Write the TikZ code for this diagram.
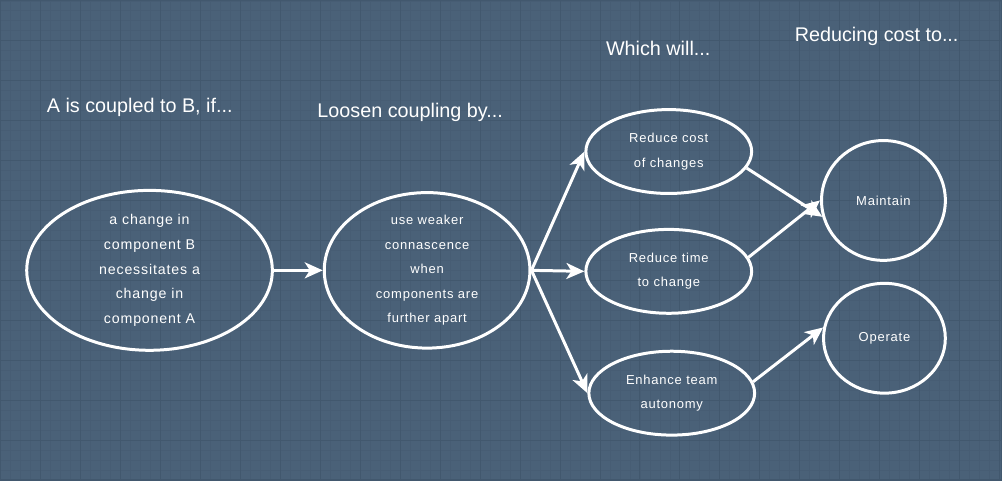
\documentclass[tikz,border=0pt]{standalone}
\usepackage{fontspec}
\setmainfont{Liberation Sans}
\newfontfamily\nodefont[LetterSpace=6]{Liberation Sans}
\usetikzlibrary{shapes.geometric,arrows.meta}
\definecolor{bgc}{RGB}{74,97,120}
\definecolor{gridc}{RGB}{71,93,116}
\definecolor{majc}{RGB}{66,88,110}
\begin{document}
\begin{tikzpicture}[x=1pt,y=-1pt,
  oval/.style={ellipse,draw=white,line width=3pt,inner sep=0pt,text=white,align=center,
    font=\nodefont\fontsize{13}{24.5}\selectfont},
  title/.style={text=white,font=\fontsize{19.8}{22}\selectfont,anchor=base west,inner sep=0pt},
  conn/.style={draw=white,line width=3pt,-{Stealth[length=18pt,width=16pt,inset=5pt]}}]
\fill[bgc] (0,0) rectangle (1002,480);
\draw[gridc,line width=0.5pt,step=10pt] (0,0) grid (1002,480);
\draw[majc,line width=0.7pt,step=40pt] (0,0) grid (1002,480);
\draw[majc,line width=1.5pt] (0,0) rectangle (1002,480);

\node[title] (t1) at (46,112) {A is coupled to B, if...};
\node[title] (t2) at (317,117) {Loosen coupling by...};
\node[title] (t3) at (606,55) {Which will...};
\node[title] (t4) at (795,41) {Reducing cost to...};

\node[oval,minimum width=246pt,minimum height=152pt,font=\nodefont\fontsize{14.2}{25}\selectfont] (a) at (149,270)
  {a change in\\component B\\necessitates a\\change in\\component A};
\node[oval,minimum width=206pt,minimum height=154pt] (b) at (427,270)
  {use weaker\\connascence\\when\\components are\\further apart};
\node[oval,minimum width=166pt,minimum height=84pt] (c) at (669,151)
  {Reduce cost\\of changes};
\node[oval,minimum width=166pt,minimum height=84pt] (d) at (669,271)
  {Reduce time\\to change};
\node[oval,minimum width=166pt,minimum height=84pt] (e) at (672,393)
  {Enhance team\\autonomy};
\node[oval,minimum width=124pt,minimum height=120pt] (f) at (884,200) {Maintain};
\node[oval,minimum width=122pt,minimum height=110pt] (g) at (885,338) {Operate};

\draw[conn] (a.east) -- (b.west);
\draw[conn] (b.east) -- (c.west);
\draw[conn] (b.east) -- (d.west);
\draw[conn] (b.east) -- (e.west);
\draw[conn] (c.-12) -- (f.195);
\draw[conn] (d.10) -- (f.180);
\draw[conn] (e.8) -- (g.170);
\end{tikzpicture}
\end{document}
